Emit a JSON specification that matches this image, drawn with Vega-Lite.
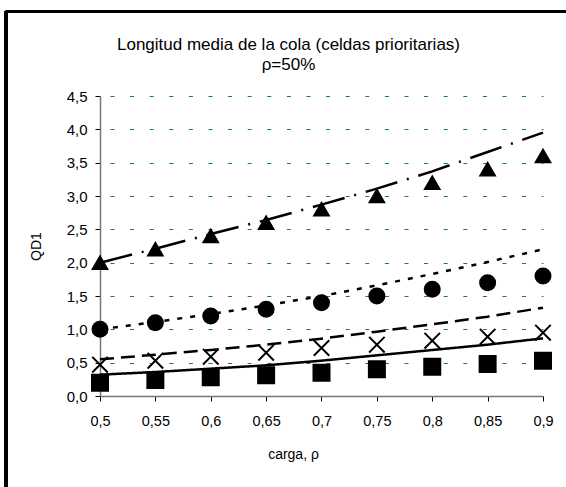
{
  "$schema": "https://vega.github.io/schema/vega-lite/v6.json",
  "autosize": {"type": "none"},
  "width": 443,
  "height": 300,
  "padding": {"left": 100, "top": 96, "right": 23, "bottom": 91},
  "background": "white",
  "config": {
    "font": "Liberation Sans",
    "view": {"stroke": null},
    "axis": {"labelFont": "Liberation Sans", "titleFont": "Liberation Sans", "labelColor": "black", "titleColor": "black", "titleFontWeight": "normal"}
  },
  "title": {
    "text": ["Longitud media de la cola (celdas prioritarias)", "ρ=50%"],
    "font": "Liberation Sans",
    "fontSize": 17,
    "fontWeight": "normal",
    "color": "black",
    "anchor": "middle",
    "baseline": "bottom",
    "lineHeight": 20,
    "offset": -81,
    "dx": -33
  },
  "data": {
    "values": [
      {"carga": 0.5, "serie": "A", "obs": 2.0, "ajuste": 2.0},
      {"carga": 0.55, "serie": "A", "obs": 2.2, "ajuste": 2.21},
      {"carga": 0.6, "serie": "A", "obs": 2.4, "ajuste": 2.43},
      {"carga": 0.65, "serie": "A", "obs": 2.6, "ajuste": 2.64},
      {"carga": 0.7, "serie": "A", "obs": 2.8, "ajuste": 2.87},
      {"carga": 0.75, "serie": "A", "obs": 3.0, "ajuste": 3.11},
      {"carga": 0.8, "serie": "A", "obs": 3.2, "ajuste": 3.37},
      {"carga": 0.85, "serie": "A", "obs": 3.4, "ajuste": 3.66},
      {"carga": 0.9, "serie": "A", "obs": 3.6, "ajuste": 3.95},
      {"carga": 0.5, "serie": "B", "obs": 1.0, "ajuste": 1.0},
      {"carga": 0.55, "serie": "B", "obs": 1.1, "ajuste": 1.11},
      {"carga": 0.6, "serie": "B", "obs": 1.2, "ajuste": 1.23},
      {"carga": 0.65, "serie": "B", "obs": 1.3, "ajuste": 1.36},
      {"carga": 0.7, "serie": "B", "obs": 1.4, "ajuste": 1.5},
      {"carga": 0.75, "serie": "B", "obs": 1.5, "ajuste": 1.66},
      {"carga": 0.8, "serie": "B", "obs": 1.6, "ajuste": 1.83},
      {"carga": 0.85, "serie": "B", "obs": 1.7, "ajuste": 2.01},
      {"carga": 0.9, "serie": "B", "obs": 1.8, "ajuste": 2.2},
      {"carga": 0.5, "serie": "C", "obs": 0.47, "ajuste": 0.55},
      {"carga": 0.55, "serie": "C", "obs": 0.53, "ajuste": 0.62},
      {"carga": 0.6, "serie": "C", "obs": 0.59, "ajuste": 0.69},
      {"carga": 0.65, "serie": "C", "obs": 0.65, "ajuste": 0.77},
      {"carga": 0.7, "serie": "C", "obs": 0.72, "ajuste": 0.86},
      {"carga": 0.75, "serie": "C", "obs": 0.77, "ajuste": 0.965},
      {"carga": 0.8, "serie": "C", "obs": 0.83, "ajuste": 1.075},
      {"carga": 0.85, "serie": "C", "obs": 0.89, "ajuste": 1.19},
      {"carga": 0.9, "serie": "C", "obs": 0.95, "ajuste": 1.325},
      {"carga": 0.5, "serie": "D", "obs": 0.2, "ajuste": 0.32},
      {"carga": 0.55, "serie": "D", "obs": 0.24, "ajuste": 0.36},
      {"carga": 0.6, "serie": "D", "obs": 0.28, "ajuste": 0.41},
      {"carga": 0.65, "serie": "D", "obs": 0.31, "ajuste": 0.46},
      {"carga": 0.7, "serie": "D", "obs": 0.35, "ajuste": 0.53},
      {"carga": 0.75, "serie": "D", "obs": 0.4, "ajuste": 0.61},
      {"carga": 0.8, "serie": "D", "obs": 0.44, "ajuste": 0.69},
      {"carga": 0.85, "serie": "D", "obs": 0.48, "ajuste": 0.77},
      {"carga": 0.9, "serie": "D", "obs": 0.53, "ajuste": 0.865}
    ]
  },
  "encoding": {
    "x": {
      "field": "carga",
      "type": "quantitative",
      "scale": {"domain": [0.5, 0.9], "nice": false, "zero": false},
      "axis": {
        "title": "carga, ρ",
        "titleFontSize": 14,
        "titleX": 193,
        "titleY": 62,
        "titleBaseline": "alphabetic",
        "titleAnchor": null,
        "titleAlign": "center",
        "values": [0.5, 0.55, 0.6, 0.65, 0.7, 0.75, 0.8, 0.85, 0.9],
        "labelExpr": "replace(format(datum.value, '.2~f'), '.', ',')",
        "labelFontSize": 14.5,
        "labelPadding": 13,
        "labelFlush": false,
        "labelOverlap": false,
        "tickSize": 5,
        "tickColor": "black",
        "domainColor": "#777777",
        "domainWidth": 1.5,
        "grid": false
      }
    },
    "y": {
      "type": "quantitative",
      "scale": {"domain": [0, 4.5], "nice": false, "zero": false},
      "axis": {
        "title": "QD1",
        "titleFontSize": 14,
        "titleX": -60,
        "titleY": 150,
        "titleBaseline": "alphabetic",
        "titleAlign": "center",
        "titleAnchor": null,
        "values": [0, 0.5, 1, 1.5, 2, 2.5, 3, 3.5, 4, 4.5],
        "labelExpr": "replace(format(datum.value, '.1f'), '.', ',')",
        "labelFontSize": 15,
        "labelPadding": 8,
        "labelFlush": false,
        "labelOverlap": false,
        "tickSize": 5,
        "tickColor": "black",
        "domainColor": "#777777",
        "domainWidth": 1.5,
        "grid": true,
        "gridColor": "#008080",
        "gridWidth": 1,
        "gridDash": [4, 15.6],
        "gridDashOffset": 9.6
      }
    }
  },
  "layer": [
    {
      "mark": {"type": "line", "color": "black", "strokeWidth": 2.5, "strokeCap": "butt"},
      "encoding": {
        "y": {"field": "ajuste"},
        "detail": {"field": "serie"},
        "strokeDash": {
          "field": "serie",
          "type": "nominal",
          "scale": {"domain": ["A", "B", "C", "D"], "range": [[33, 10, 2, 10], [5, 8], [14, 7], [1, 0]]},
          "legend": null
        }
      }
    },
    {
      "mark": {"type": "point", "filled": true, "color": "black", "stroke": "black", "strokeWidth": 2, "opacity": 1},
      "encoding": {
        "y": {"field": "obs"},
        "shape": {
          "field": "serie",
          "type": "nominal",
          "scale": {"domain": ["A", "B", "C", "D"], "range": ["triangle-up", "circle", "M-1,-1L1,1M-1,1L1,-1", "square"]},
          "legend": null
        },
        "size": {
          "field": "serie",
          "type": "nominal",
          "scale": {"domain": ["A", "B", "C", "D"], "range": [210, 256, 180, 196]},
          "legend": null
        }
      }
    },
    {
      "mark": {"type": "rule", "color": "black", "strokeWidth": 2.5, "clip": false},
      "encoding": {
        "x": {"datum": 0.4151},
        "y": {"datum": 5.77},
        "y2": {"datum": -1.6}
      }
    },
    {
      "mark": {"type": "rule", "color": "black", "strokeWidth": 2.5, "clip": false},
      "encoding": {
        "x": {"datum": 0.4151},
        "x2": {"datum": 0.96},
        "y": {"datum": 5.77}
      }
    }
  ]
}
